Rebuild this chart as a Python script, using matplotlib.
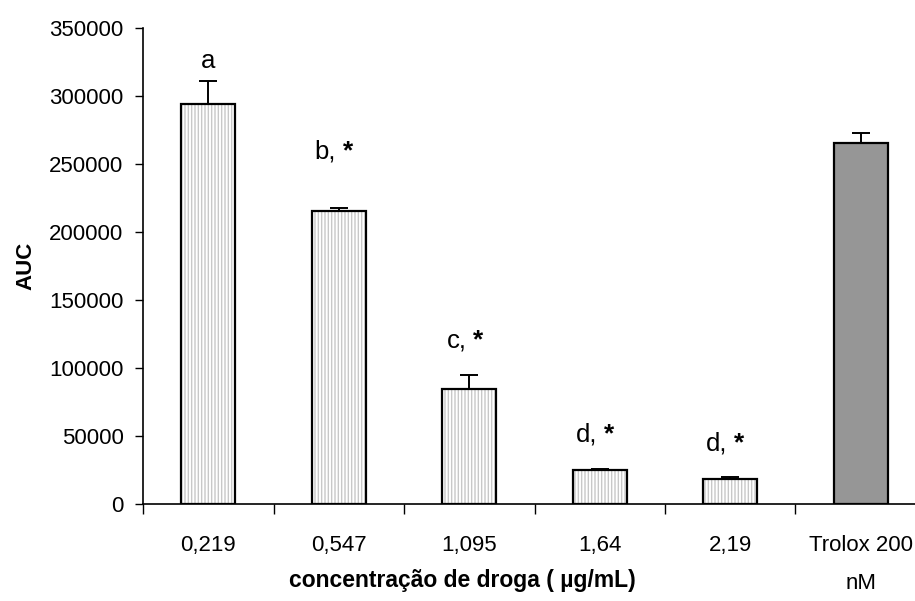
import matplotlib
matplotlib.use("Agg")
import matplotlib.pyplot as plt
import numpy as np

plt.rcParams['font.family'] = ['Liberation Sans', 'DejaVu Sans']

categories = ["0,219", "0,547", "1,095", "1,64", "2,19", "Trolox 200\nnM"]
values = [294000, 215500, 84500, 25000, 18500, 265500]
errors = [17000, 2500, 10000, 600, 1300, 7000]
annot_letters = ["a", "b,", "c,", "d,", "d,", ""]
annot_star = [False, True, True, True, True, False]
annot_y = [325500, 259000, 120500, 51000, 44500, 0]
face_colors = ["white", "white", "white", "white", "white", "#969696"]
hatches = ["|||||", "|||||", "|||||", "|||||", "|||||", ""]

fig = plt.figure(figsize=(9.15, 6.01), dpi=100)
ax = fig.add_axes([143/915, 97/601, 783/915, 476/601])

x = np.arange(len(categories))
w = 0.41
for xi, v, fc, h in zip(x, values, face_colors, hatches):
    ax.bar(xi, v, width=w, color=fc, edgecolor="#c8c8c8" if h else fc,
           hatch=h, linewidth=0, zorder=2)
ax.bar(x, values, width=w, fill=False, edgecolor="black", linewidth=1.6, zorder=3)
ax.errorbar(x, values, yerr=[np.zeros(len(errors)), errors], fmt="none",
            ecolor="black", elinewidth=1.4, capsize=6.5, capthick=1.4, zorder=4)

for xi, t, st, ty in zip(x, annot_letters, annot_star, annot_y):
    if not t:
        continue
    if st:
        ax.text(xi - 0.02, ty, t, ha="right", va="center", fontsize=18.5)
        ax.text(xi + 0.03, ty, "*", ha="left", va="center", fontsize=19,
                fontweight="bold")
    else:
        ax.text(xi, ty, t, ha="center", va="center", fontsize=18.5)

ax.set_xlim(-0.5, 5.5)
ax.set_ylim(0, 350000)
ax.set_yticks(np.arange(0, 350001, 50000))
ax.set_yticklabels([str(v) for v in range(0, 350001, 50000)], fontsize=16)
ax.tick_params(axis="y", direction="out", length=6, width=1, pad=8)

ax.set_xticks(x)
ax.set_xticklabels(categories, fontsize=16, linespacing=2.1)
ax.tick_params(axis="x", which="major", length=0, pad=22)
ax.set_xticks(np.arange(-0.5, 6.0, 1.0), minor=True)
ax.tick_params(axis="x", which="minor", direction="out", length=7, width=1)

for s in ["top", "right"]:
    ax.spines[s].set_visible(False)
ax.spines["left"].set_linewidth(1.2)
ax.spines["bottom"].set_linewidth(1.2)

ax.set_ylabel("AUC", fontsize=16, fontweight="bold", labelpad=9)
fig.text(462/915, 1 - 580/601, "concentração de droga ( µg/mL)", ha="center",
         va="center", fontsize=16.5, fontweight="bold")

fig.savefig("out.png", dpi=100)
